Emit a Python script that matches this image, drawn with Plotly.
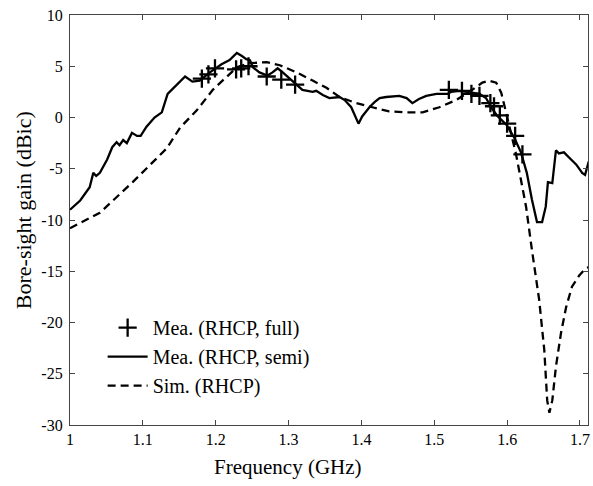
import plotly.graph_objects as go

# ---- data ----
semi_f = [1.000, 1.014, 1.027, 1.032, 1.036, 1.041, 1.051, 1.058, 1.064, 1.068,
          1.073, 1.078, 1.085, 1.092, 1.097, 1.105, 1.116, 1.126, 1.134, 1.147,
          1.158, 1.168, 1.178, 1.192, 1.208, 1.219, 1.229, 1.236, 1.242, 1.247,
          1.251, 1.260, 1.271, 1.278, 1.285, 1.292, 1.305, 1.319, 1.333, 1.338,
          1.347, 1.356, 1.370, 1.377, 1.386, 1.390, 1.396, 1.401, 1.411, 1.418,
          1.425, 1.434, 1.452, 1.462, 1.470, 1.479, 1.489, 1.503, 1.518, 1.523,
          1.534, 1.545, 1.562, 1.571, 1.579, 1.586, 1.599, 1.610, 1.619, 1.627,
          1.634, 1.641, 1.648, 1.653, 1.656, 1.662, 1.667, 1.671, 1.678, 1.685,
          1.695, 1.703, 1.707, 1.712]
semi_g = [-9.0, -8.1, -6.8, -5.4, -5.7, -5.4, -4.1, -2.9, -2.4, -2.7,
          -2.2, -2.5, -1.5, -1.8, -1.8, -0.9, 0.0, 0.5, 2.3, 3.2,
          4.0, 3.5, 3.6, 4.4, 5.2, 5.6, 6.3, 6.0, 5.7, 5.6,
          4.9, 4.4, 4.1, 4.4, 4.8, 4.4, 3.6, 2.7, 2.5, 2.6,
          2.2, 1.9, 2.0, 1.7, 1.0, 0.4, -0.6, 0.1, 1.0, 1.5,
          1.9, 2.0, 2.1, 1.9, 1.4, 1.8, 2.1, 2.3, 2.3, 2.5,
          2.6, 2.5, 2.3, 1.9, 0.9, 0.2, -0.7, -2.0, -3.4, -5.4,
          -8.0, -10.2, -10.2, -8.7, -6.3, -6.4, -3.2, -3.5, -3.4, -3.9,
          -4.6, -5.4, -5.6, -4.3]

sim_f = [1.000, 1.041, 1.086, 1.133, 1.151, 1.174, 1.196, 1.215, 1.229, 1.247,
         1.270, 1.288, 1.311, 1.333, 1.352, 1.370, 1.393, 1.415, 1.438, 1.462,
         1.484, 1.507, 1.530, 1.552, 1.566, 1.575, 1.585, 1.592, 1.599, 1.605,
         1.612, 1.619, 1.626, 1.634, 1.644, 1.651, 1.655, 1.658, 1.662, 1.667,
         1.674, 1.681, 1.689, 1.699, 1.708, 1.712]
sim_g = [-10.8, -9.3, -6.3, -3.0, -1.0, 0.7, 2.7, 4.0, 4.9, 5.3,
         5.4, 5.1, 4.4, 3.6, 2.9, 2.0, 1.4, 1.0, 0.6, 0.5,
         0.5, 1.0, 1.7, 2.7, 3.4, 3.6, 3.4, 2.4, 0.4, -1.5,
         -3.5, -6.1, -8.7, -12.9, -17.8, -22.7, -27.6, -28.8, -27.6, -24.3,
         -21.0, -18.5, -16.5, -15.4, -14.7, -14.6]

full_f = [1.181, 1.190, 1.199, 1.228, 1.235, 1.245, 1.270, 1.290, 1.309, 1.520,
          1.538, 1.551, 1.562, 1.577, 1.582, 1.590, 1.600, 1.611, 1.621]
full_g = [3.8, 4.2, 4.8, 4.7, 4.8, 5.0, 4.0, 3.7, 3.2, 2.7,
          2.6, 2.3, 2.1, 1.4, 1.1, 0.2, -0.6, -1.8, -3.6]

x_ticks = [1, 1.1, 1.2, 1.3, 1.4, 1.5, 1.6, 1.7]
x_ticklabels = ["1", "1.1", "1.2", "1.3", "1.4", "1.5", "1.6", "1.7"]
y_ticks = [-30, -25, -20, -15, -10, -5, 0, 5, 10]
y_ticklabels = ["-30", "-25", "-20", "-15", "-10", "-5", "0", "5", "10"]

FONT = "Liberation Serif"
W, H = 593, 486
ML, MR, MT, MB = 70, 3, 15, 61
PW, PH = W - ML - MR, H - MT - MB

fig = go.Figure()
fig.add_trace(go.Scatter(
    x=full_f, y=full_g, mode="markers", name="Mea. (RHCP, full)",
    marker=dict(symbol="cross-thin", size=13, color="black",
                line=dict(width=2.3, color="black"))))
fig.add_trace(go.Scatter(
    x=semi_f, y=semi_g, mode="lines", name="Mea. (RHCP, semi)",
    line=dict(color="black", width=2.3)))
fig.add_trace(go.Scatter(
    x=sim_f, y=sim_g, mode="lines", name="Sim. (RHCP)",
    line=dict(color="black", width=2.3, dash="8px,5px")))

axis_common = dict(
    showline=True, linecolor="#444", linewidth=1.2, mirror="ticks",
    ticks="inside", ticklen=5, tickcolor="#444", tickwidth=1,
    showgrid=False, zeroline=False,
    tickfont=dict(family=FONT, size=16, color="black"),
)

fig.update_layout(
    width=W, height=H,
    margin=dict(l=ML, r=MR, t=MT, b=MB),
    paper_bgcolor="white", plot_bgcolor="white",
    font=dict(family=FONT, color="black"),
    showlegend=True,
    legend=dict(x=0.063, y=0.285, xanchor="left", yanchor="top",
                bgcolor="rgba(0,0,0,0)", font=dict(family=FONT, size=20),
                tracegroupgap=0, itemwidth=40),
    xaxis=dict(range=[1, 1.711], tickvals=x_ticks, ticktext=x_ticklabels,
               **axis_common),
    yaxis=dict(range=[-30, 10], tickvals=y_ticks, ticktext=y_ticklabels,
               ticklabelstandoff=3, **axis_common),
    annotations=[
        dict(text="Frequency (GHz)", xref="paper", yref="paper",
             x=(289 - ML) / PW, y=-(467 - MT - PH) / PH,
             xanchor="center", yanchor="middle", showarrow=False,
             font=dict(family=FONT, size=21, color="black")),
        dict(text="Bore-sight gain (dBic)", xref="paper", yref="paper",
             x=(23 - ML) / PW, y=(H - MB - 210) / PH, textangle=-90,
             xanchor="center", yanchor="middle", showarrow=False,
             font=dict(family=FONT, size=22, color="black")),
    ],
)

fig.write_html("out.html")
